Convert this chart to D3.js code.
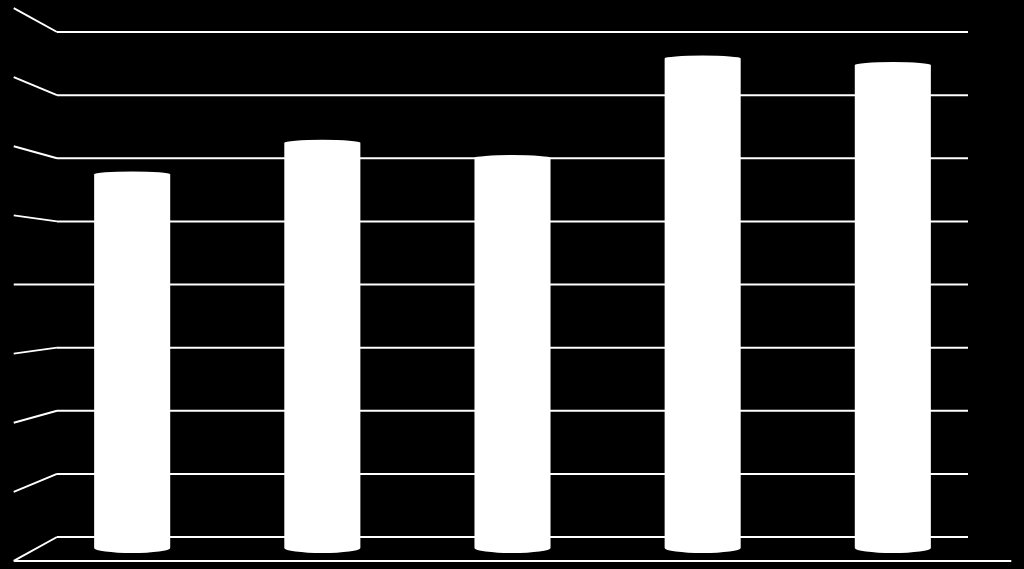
<!DOCTYPE html>
<html>
<head>
<meta charset="utf-8">
<script src="https://cdn.jsdelivr.net/npm/d3@7"></script>
<style>
  html, body { margin: 0; padding: 0; background: #000; }
  svg { display: block; }
</style>
</head>
<body>
<svg width="1024" height="569"></svg>
<script>

// chart values
var categories = ["1", "2", "3", "4", "5"];
var values = [5.67, 6.15, 5.92, 7.43, 7.33];
var ticks = [0, 1, 2, 3, 4, 5, 6, 7, 8];

var width = 1024;
var height = 569;

// back wall of the 3d box
var x = d3.scaleBand()
  .domain(categories)
  .range([57, 968])
  .paddingInner(0.6)
  .paddingOuter(0.3);

var y = d3.scaleLinear()
  .domain([0, 8])
  .range([537, 32]);

// simple perspective: depth 0 = back wall, 1 = front edge
var cx = 512.5, cy = 284.5, grow = 0.095;
var project = function(px, py, z)
{
  var s = 1 + grow * z;
  return [cx + (px - cx) * s, cy + (py - cy) * s];
};

var svg = d3.select("svg")
  .attr("width", width)
  .attr("height", height);

svg.append("rect")
  .attr("width", width)
  .attr("height", height)
  .attr("fill", "#000");

// back wall gridlines
svg.selectAll(".grid")
  .data(ticks)
  .enter()
  .append("line")
  .attr("class", "grid")
  .attr("x1", x.range()[0])
  .attr("x2", x.range()[1])
  .attr("y1", function(d) { return y(d); })
  .attr("y2", function(d) { return y(d); })
  .attr("stroke", "#fff")
  .attr("stroke-width", 2);

// side wall gridlines
svg.selectAll(".side")
  .data(ticks)
  .enter()
  .append("line")
  .attr("class", "side")
  .attr("x1", function(d) { return project(x.range()[0], y(d), 1)[0]; })
  .attr("y1", function(d) { return project(x.range()[0], y(d), 1)[1]; })
  .attr("x2", x.range()[0])
  .attr("y2", function(d) { return y(d); })
  .attr("stroke", "#fff")
  .attr("stroke-width", 2);

// front edge of the floor
var f0 = project(x.range()[0], y(0), 1);
var f1 = project(x.range()[1], y(0), 1);
svg.append("line")
  .attr("x1", f0[0])
  .attr("y1", f0[1])
  .attr("x2", f1[0])
  .attr("y2", f1[1])
  .attr("stroke", "#fff")
  .attr("stroke-width", 2);

// cylinders, standing half way into the floor
var depth = 0.46;
var cylinder = function(d, i)
{
  var c = categories[i];
  var l = project(x(c), y(0), depth);
  var r = project(x(c) + x.bandwidth(), y(0), depth);
  var t = project(x(c), y(d), depth);
  var rx = (r[0] - l[0]) / 2;
  return "M" + l[0] + "," + t[1] +
    "L" + l[0] + "," + l[1] +
    "A" + rx + ",5 0 0 0 " + r[0] + "," + l[1] +
    "L" + r[0] + "," + t[1] +
    "A" + rx + ",3 0 0 0 " + l[0] + "," + t[1] + "Z";
};

svg.selectAll(".bar")
  .data(values)
  .enter()
  .append("path")
  .attr("class", "bar")
  .attr("d", cylinder)
  .attr("fill", "#fff");

</script>
</body>
</html>
